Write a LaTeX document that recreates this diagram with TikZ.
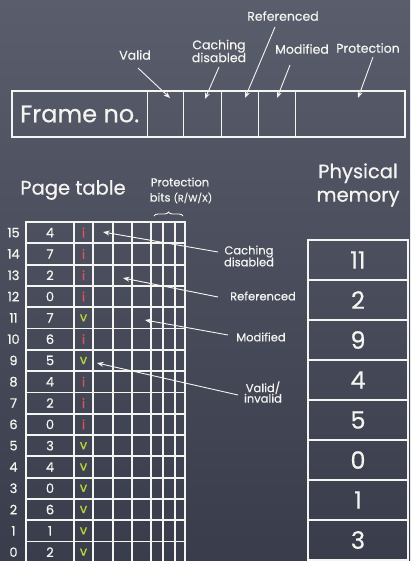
\documentclass[tikz,border=0pt]{standalone}
\usepackage{fontspec}
\setmainfont{Poppins}[FakeBold=0.5]
\usetikzlibrary{arrows.meta,decorations.pathreplacing}
\definecolor{bgtop}{HTML}{5A5E6C}
\definecolor{bgbot}{HTML}{393D4B}
\definecolor{chalk}{HTML}{F4F4F0}
\definecolor{invred}{HTML}{D9545C}
\definecolor{valgreen}{HTML}{B8D53C}
\newcommand{\fs}[1]{\fontsize{#1}{#1}\selectfont}
\tikzset{
  box/.style={draw=chalk, line width=1.6pt},
  lbl/.style={text=chalk, font=\fs{12.5}, inner sep=1pt, align=center},
  num/.style={text=chalk, font=\fs{13}, inner sep=0pt},
  big/.style={text=chalk, font=\fs{24}, inner sep=0pt},
  title/.style={text=chalk, font=\fs{19.5}, inner sep=0pt, align=center},
  arr/.style={draw=chalk, line width=0.9pt, -{Stealth[length=6.5pt,width=5pt]}},
  lead/.style={draw=chalk, line width=0.9pt, -{Stealth[length=6.5pt,width=5pt]}},
}
\begin{document}
\begin{tikzpicture}[x=1pt,y=-1pt]
\useasboundingbox (0,0) rectangle (410,561);
\clip (0,0) rectangle (410,561);
\shade[top color=bgtop, bottom color=bgbot] (0,0) rectangle (410,561);

% ---------- page table entry ----------
\draw[box, line width=1.5pt] (12,91) rectangle (405,137);
\foreach \x in {147,183,221,258,295} \draw[draw=chalk, line width=0.8pt] (\x,91) -- (\x,137);
\node[big, anchor=west] (frameno) at (20,114) {Frame no.};

\node[lbl] (valid) at (135,55) {Valid};
\node[lbl] (cache) at (219,51) {Caching\\[-1pt]disabled};
\node[lbl] (refd) at (283,16) {Referenced};
\node[lbl] (modf) at (302,49) {Modified};
\node[lbl] (prot) at (368,48) {Protection};

\coordinate (valid-a) at (138,68);  \coordinate (valid-b) at (170,98);
\coordinate (cache-a) at (219,67);  \coordinate (cache-b) at (205,99);
\coordinate (refd-a) at (275,27);   \coordinate (refd-b) at (245,98);
\coordinate (modf-a) at (290,65);   \coordinate (modf-b) at (277,98);
\coordinate (prot-a) at (373,57);   \coordinate (prot-b) at (358,98);
\draw[arr] (valid-a) -- (valid-b);
\draw[arr] (cache-a) -- (cache-b);
\draw[arr] (refd-a) -- (refd-b);
\draw[arr] (modf-a) -- (modf-b);
\draw[arr] (prot-a) -- (prot-b);

% ---------- page table ----------
\node[title] (pttitle) at (73,190) {Page table};
\node[lbl, font=\fs{11.5}] (protbits) at (180,182) {Protection};
\node[lbl, font=\fs{11.5}] (protbits2) at (181,198) {bits {\fs{9.5}(R/W/X)}};
\draw[draw=chalk, line width=0.9pt, decorate, decoration={brace, amplitude=4pt}] (154,216) -- (183,216);

\foreach \r/\f/\v [count=\k from 0] in {15/4/i,14/7/i,13/2/i,12/0/i,11/7/v,10/6/i,9/5/v,8/4/i,7/2/i,6/0/i,5/3/v,4/4/v,3/0/v,2/6/v,1/1/v,0/2/v}{
  \pgfmathsetmacro{\yt}{222+21.3*\k}
  \pgfmathsetmacro{\yb}{\yt+21.3}
  \pgfmathsetmacro{\ym}{\yt+10.65}
  \draw[box, line width=1.8pt] (26,\yt) rectangle (185,\yb);
  \foreach \x in {74,93,113,132,151,163,175} \draw[draw=chalk, line width=1.8pt] (\x,\yt) -- (\x,\yb);
  \node[num] (row\r) at (13.5,\ym) {\r};
  \node[num] (frame\r) at (50,\ym) {\f};
  \if i\v
    \node[num, text=invred] (vb\r) at (83.5,\ym) {i};
  \else
    \node[num, text=valgreen] (vb\r) at (83.5,\ym) {v};
  \fi
}

\node[lbl, font=\fs{11.5}] (cd) at (249,256) {Caching\\[-1pt]disabled};
\node[lbl, font=\fs{11.5}] (rf) at (263,296) {Referenced};
\node[lbl, font=\fs{11.5}] (md) at (261,337) {Modified};
\node[lbl, font=\fs{11.5}] (vi) at (263,392) {Valid/\\[-1pt]invalid};

\coordinate (cd-a) at (218,252); \coordinate (cd-b) at (103,232);
\coordinate (rf-a) at (218,297); \coordinate (rf-b) at (123,278);
\coordinate (md-a) at (228,335); \coordinate (md-b) at (145,320);
\coordinate (vi-a) at (238,395); \coordinate (vi-b) at (97,363);
\draw[lead] (cd-a) -- (cd-b);
\draw[lead] (rf-a) -- (rf-b);
\draw[lead] (md-a) -- (md-b);
\draw[lead] (vi-a) -- (vi-b);

% ---------- physical memory ----------
\node[title] (pmtitle) at (358,185) {Physical\\[4pt]memory};
\foreach \n [count=\k from 0] in {11,2,9,4,5,0,1,3}{
  \pgfmathsetmacro{\yt}{240+40*\k}
  \draw[box, line width=1.8pt] (308,\yt) rectangle (408,\yt+40);
  \node[big] (mem\k) at (358,\yt+20) {\n};
}
\end{tikzpicture}
\end{document}
